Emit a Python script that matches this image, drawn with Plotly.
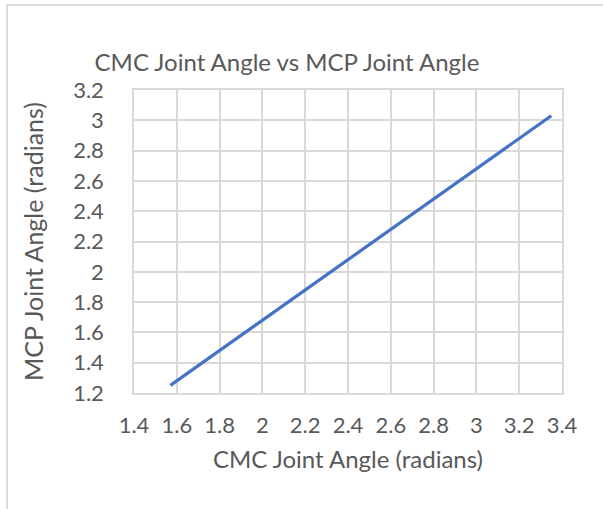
import plotly.graph_objects as go

# CMC vs MCP joint angle (radians)
cmc_angle = [1.57, 2.0, 2.5, 3.0, 3.35]
mcp_angle = [1.25, 1.68, 2.18, 2.68, 3.03]

x_ticks = [1.4, 1.6, 1.8, 2.0, 2.2, 2.4, 2.6, 2.8, 3.0, 3.2, 3.4]
x_tick_text = ["1.4", "1.6", "1.8", "2", "2.2", "2.4", "2.6", "2.8", "3", "3.2", "3.4"]
y_ticks = [1.2, 1.4, 1.6, 1.8, 2.0, 2.2, 2.4, 2.6, 2.8, 3.0, 3.2]
y_tick_text = ["1.2", "1.4", "1.6", "1.8", "2", "2.2", "2.4", "2.6", "2.8", "3", "3.2"]

FONT = "Lato, 'Open Sans', sans-serif"
TEXT = "#595959"
GRID = "#d9d9d9"

fig = go.Figure()
fig.add_trace(go.Scatter(
    x=cmc_angle, y=mcp_angle, mode="lines",
    line=dict(color="#4472C4", width=3.2),
    hoverinfo="skip", showlegend=False,
))

fig.update_layout(
    width=603, height=509,
    margin=dict(l=134, r=41, t=90, b=116),
    paper_bgcolor="white", plot_bgcolor="white",
    font=dict(family=FONT, color=TEXT, size=22),
    title=dict(text="CMC Joint Angle vs MCP Joint Angle",
               x=(287 - 134) / 428, xref="paper", xanchor="center",
               y=1 - 63 / 509, yref="container", yanchor="middle",
               font=dict(size=24, color=TEXT, family=FONT)),
    shapes=[dict(type="rect", xref="paper", yref="paper",
                 x0=-0.2967, x1=1.2, y0=-0.5, y1=1.2805,
                 line=dict(color="#d0d0d0", width=1.5), layer="below")],
)

fig.update_xaxes(
    range=[1.4, 3.4], tickvals=x_ticks, ticktext=x_tick_text,
    showgrid=True, gridcolor=GRID, gridwidth=1.5,
    showline=True, linecolor=GRID, linewidth=1.5, mirror=True,
    zeroline=False, ticks="", ticklabelstandoff=12,
    tickfont=dict(size=22, color=TEXT),
    title=dict(text="CMC Joint Angle (radians)", standoff=14,
               font=dict(size=24, color=TEXT)),
)
fig.update_yaxes(
    range=[1.2, 3.2], tickvals=y_ticks, ticktext=y_tick_text,
    showgrid=True, gridcolor=GRID, gridwidth=1.5,
    showline=True, linecolor=GRID, linewidth=1.5, mirror=True,
    zeroline=False, ticks="", ticklabelstandoff=24,
    tickfont=dict(size=22, color=TEXT),
    title=dict(text="MCP Joint Angle (radians)", standoff=22,
               font=dict(size=25, color=TEXT)),
)

fig.write_html("out.html")
